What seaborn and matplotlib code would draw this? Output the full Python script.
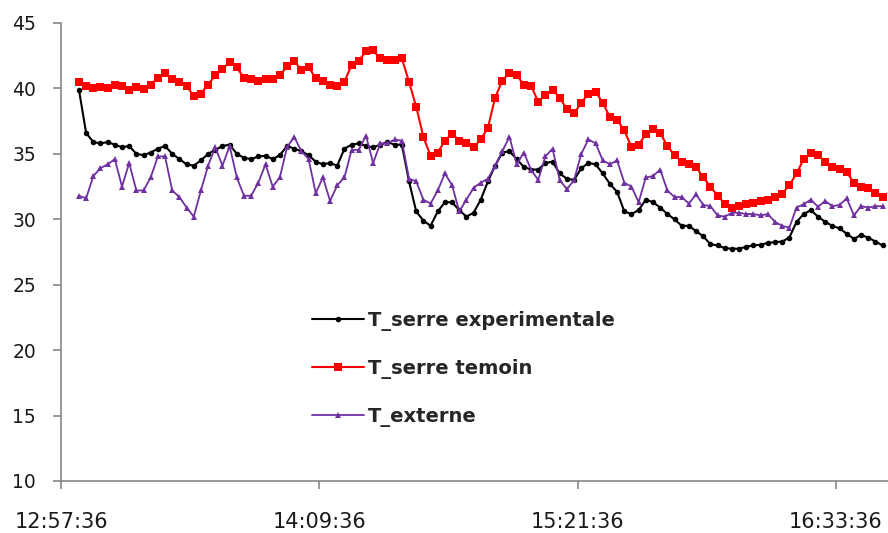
import matplotlib
matplotlib.use("Agg")
import numpy as np
import pandas as pd
import matplotlib.pyplot as plt
import seaborn as sns

# x axis labels (clock time) and sampling grid, minutes after 12:57:36
tick_labels = ["12:57:36", "14:09:36", "15:21:36", "16:33:36"]
minutes = list(range(5, 230, 2))

t_exp = [39.9, 36.6, 35.9, 35.8, 35.9, 35.7, 35.5, 35.6, 35.0, 34.9, 35.1, 35.4, 35.6, 35.0, 34.6, 34.2, 34.1, 34.5, 35.0, 35.3, 35.6, 35.7,
         35.0, 34.7, 34.6, 34.8, 34.85, 34.6, 34.9, 35.6, 35.4, 35.2, 34.9, 34.4, 34.2, 34.3, 34.1, 35.4, 35.7, 35.8, 35.6, 35.5, 35.7, 35.9,
         35.7, 35.7, 32.9, 30.6, 29.9, 29.5, 30.6, 31.3, 31.3, 30.7, 30.2, 30.5, 31.5, 32.9, 34.1, 35.1, 35.2, 34.6, 34.0, 33.8, 33.8, 34.3,
         34.4, 33.5, 33.1, 33.0, 33.9, 34.3, 34.2, 33.5, 32.7, 32.1, 30.6, 30.4, 30.7, 31.5, 31.3, 30.9, 30.4, 30.0, 29.5, 29.5, 29.1, 28.7, 28.1,
         28.0, 27.8, 27.75, 27.75, 27.9, 28.0, 28.05, 28.2, 28.25, 28.3, 28.6, 29.8, 30.4, 30.7, 30.2, 29.8, 29.5, 29.3, 28.9, 28.5, 28.8, 28.6, 28.3, 28.0]

t_temoin = [40.5, 40.2, 40.05, 40.1, 40.0, 40.3, 40.2, 39.9, 40.1, 39.95, 40.3, 40.8, 41.2, 40.7, 40.5, 40.2, 39.4, 39.6, 40.3, 41.0, 41.5, 42.0,
            41.6, 40.8, 40.7, 40.55, 40.7, 40.75, 41.0, 41.7, 42.1, 41.4, 41.6, 40.8, 40.6, 40.3, 40.2, 40.5, 41.8, 42.1, 42.85, 42.9, 42.3, 42.2,
            42.2, 42.3, 40.5, 38.6, 36.3, 34.85, 35.1, 36.0, 36.55, 36.0, 35.8, 35.5, 36.1, 37.0, 39.3, 40.6, 41.2, 41.0, 40.3, 40.2, 39.0, 39.5,
            39.9, 39.3, 38.4, 38.1, 38.9, 39.6, 39.75, 38.9, 37.8, 37.6, 36.8, 35.5, 35.7, 36.5, 36.9, 36.6, 35.6, 34.9, 34.4, 34.2, 34.0, 33.2, 32.5,
            31.8, 31.2, 30.9, 31.0, 31.15, 31.25, 31.4, 31.5, 31.7, 31.95, 32.6, 33.5, 34.6, 35.1, 34.9, 34.4, 34.0, 33.85, 33.6, 32.8, 32.5, 32.4, 32.0, 31.7]

t_ext = [31.8, 31.6, 33.3, 33.9, 34.2, 34.6, 32.5, 34.3, 32.2, 32.2, 33.2, 34.8, 34.8, 32.2, 31.7, 30.9, 30.2, 32.2, 34.1, 35.5, 34.1, 35.6,
         33.2, 31.8, 31.8, 32.8, 34.2, 32.5, 33.2, 35.5, 36.3, 35.2, 34.6, 32.0, 33.2, 31.4, 32.6, 33.2, 35.3, 35.3, 36.4, 34.3, 35.8, 35.8,
         36.1, 36.0, 33.1, 32.9, 31.5, 31.2, 32.2, 33.5, 32.6, 30.6, 31.5, 32.4, 32.8, 33.1, 34.1, 35.2, 36.3, 34.2, 35.1, 33.8, 33.0, 34.8,
         35.4, 33.0, 32.3, 33.0, 35.0, 36.1, 35.8, 34.5, 34.2, 34.5, 32.8, 32.5, 31.3, 33.2, 33.3, 33.8, 32.2, 31.7, 31.7, 31.2, 31.9, 31.1, 31.0,
         30.3, 30.2, 30.5, 30.5, 30.4, 30.4, 30.3, 30.4, 29.8, 29.5, 29.35, 30.9, 31.15, 31.5, 30.95, 31.4, 31.0, 31.1, 31.6, 30.3, 31.0, 30.9, 31.0, 31.0]

df = pd.DataFrame({"minutes": minutes, "exp": t_exp, "temoin": t_temoin, "ext": t_ext})

sns.set_style("ticks")
plt.rcParams["font.family"] = ["DejaVu Sans"]

fig = plt.figure(figsize=(8.88, 5.33), dpi=100)
ax = fig.add_axes([61/888, 52/533, 827/888, 458/533])

sns.lineplot(data=df, x="minutes", y="exp", color="black", marker="o", markersize=4,
             markeredgecolor="black", markeredgewidth=0, linewidth=1.5,
             label="T_serre experimentale", ax=ax)
sns.lineplot(data=df, x="minutes", y="temoin", color="#ff0000", marker="s", markersize=5.5,
             markeredgecolor="#ff0000", markeredgewidth=0, linewidth=1.5,
             label="T_serre temoin", ax=ax)
sns.lineplot(data=df, x="minutes", y="ext", color="#7030a0", marker="^", markersize=4.5,
             markeredgecolor="#7030a0", markeredgewidth=0, linewidth=1.3,
             label="T_externe", ax=ax)

start = pd.to_timedelta(tick_labels[0])
tick_pos = [(pd.to_timedelta(s) - start).total_seconds() / 60 for s in tick_labels]
ax.set_xticks(tick_pos)
ax.set_xticklabels(tick_labels)
ax.set_yticks(np.arange(10, 46, 5))
ax.set_xlim(0, 230.5)
ax.set_ylim(10, 45)
ax.set_xlabel("")
ax.set_ylabel("")

for side in ["top", "right"]:
    ax.spines[side].set_visible(False)
for side in ["left", "bottom"]:
    ax.spines[side].set_color("#868686")
    ax.spines[side].set_linewidth(1.2)
ax.tick_params(axis="y", length=6, width=1.2, color="#868686", pad=12, labelsize=13.5, labelcolor="#1a1a1a")
ax.tick_params(axis="x", length=6, width=1.2, color="#868686", pad=16, labelsize=15, labelcolor="#1a1a1a")

ax.legend(loc="center left", bbox_to_anchor=(0.303, 0.245), frameon=False,
          prop={"size": 14, "weight": "bold"}, handlelength=2.7, handletextpad=0.2,
          labelspacing=1.45, borderaxespad=0, borderpad=0)

fig.savefig("out.png", dpi=100)
